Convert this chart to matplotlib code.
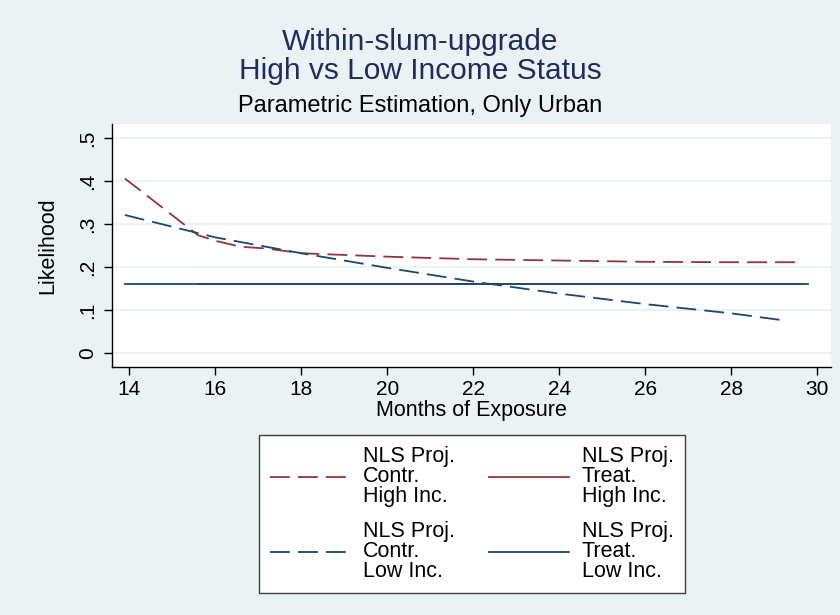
import numpy as np
import matplotlib.pyplot as plt

plt.rcParams['font.family'] = ['Liberation Sans', 'DejaVu Sans']

# projected likelihoods by months of exposure
months_contr_high = [13.9, 15.6, 16.0, 16.6, 17.2, 18.0, 20.0, 22.0, 24.0, 26.0, 28.0, 29.56]
contr_high = [0.406, 0.274, 0.261, 0.247, 0.243, 0.232, 0.224, 0.218, 0.215, 0.212, 0.211, 0.211]

months_contr_low = [13.9, 16.0, 18.0, 20.0, 22.0, 24.0, 26.0, 28.0, 29.19]
contr_low = [0.321, 0.269, 0.232, 0.198, 0.166, 0.138, 0.1135, 0.092, 0.076]

months_treat_high = [15.6, 29.6]
treat_high = [0.160, 0.160]

months_treat_low = [13.9, 29.79]
treat_low = [0.160, 0.160]

y_ticks = [0, 0.1, 0.2, 0.3, 0.4, 0.5]
y_ticklabels = ['0', '.1', '.2', '.3', '.4', '.5']
x_ticks = [14, 16, 18, 20, 22, 24, 26, 28, 30]

maroon = '#90353B'
navy = '#1A476F'
title_navy = '#1E2D5E'
bg = '#EAF2F3'

fig = plt.figure(figsize=(8.4, 6.15), dpi=100, facecolor=bg)
ax = fig.add_axes([112 / 840, 1 - 367 / 615, (831 - 112) / 840, (367 - 124) / 615])
ax.set_facecolor('white')

ln_ch, = ax.plot(months_contr_high, contr_high, color=maroon, lw=1.3, dashes=(11, 4.5),
                 label='NLS Proj.\nContr.\nHigh Inc.')
ln_th, = ax.plot(months_treat_high, treat_high, color=maroon, lw=1.3,
                 label='NLS Proj.\nTreat.\nHigh Inc.')
ln_cl, = ax.plot(months_contr_low, contr_low, color=navy, lw=1.3, dashes=(11, 4.5),
                 label='NLS Proj.\nContr.\nLow Inc.')
ln_tl, = ax.plot(months_treat_low, treat_low, color=navy, lw=1.3,
                 label='NLS Proj.\nTreat.\nLow Inc.')

ax.set_xlim(13.6, 30.32)
ax.set_ylim(-0.033, 0.533)
ax.set_yticks(y_ticks)
ax.set_yticklabels(y_ticklabels, rotation=90, va='center')
ax.set_xticks(x_ticks)
ax.tick_params(labelsize=15, length=5.8, width=1, colors='black', direction='out')
ax.tick_params(axis='x', pad=3.5)
ax.tick_params(axis='y', pad=5)
ax.grid(axis='y', color=bg, lw=1.5)
ax.set_axisbelow(True)
for s in ['top', 'right']:
    ax.spines[s].set_visible(False)
ax.spines['left'].set_linewidth(1)
ax.spines['bottom'].set_linewidth(1)

ax.set_xlabel('Months of Exposure', fontsize=15.5, labelpad=1)
ax.set_ylabel('Likelihood', fontsize=15.5, labelpad=14)

fig.text(0.5, 1 - 42 / 615, 'Within-slum-upgrade', ha='center', va='center',
         fontsize=21.5, color=title_navy)
fig.text(0.5, 1 - 71 / 615, 'High vs Low Income Status', ha='center', va='center',
         fontsize=21.5, color=title_navy)
fig.text(0.5, 1 - 106 / 615, 'Parametric Estimation, Only Urban', ha='center', va='center',
         fontsize=17, color='black')

leg = fig.legend(handles=[ln_ch, ln_cl, ln_th, ln_tl], ncol=2,
                 loc='upper center', bbox_to_anchor=(472 / 840, 1 - 435 / 615),
                 borderaxespad=0,
                 fontsize=15.5, frameon=True, fancybox=False, framealpha=1,
                 facecolor='white', edgecolor='#404040',
                 handlelength=3.7, handletextpad=0.6, columnspacing=1.6,
                 labelspacing=0.62, borderpad=0.5)
leg.get_frame().set_linewidth(1)
for t in leg.get_texts():
    t.set_linespacing(0.95)

fig.savefig('out.png', dpi=100, facecolor=bg)
